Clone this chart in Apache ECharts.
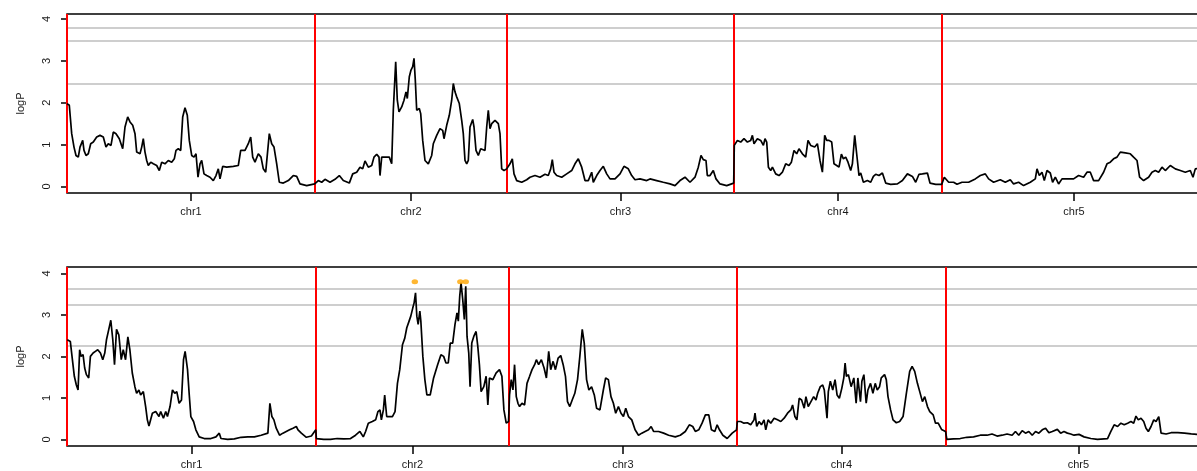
<!DOCTYPE html>
<html>
<head>
    <meta charset="utf-8">
    <title>logP scan</title>
    <script src="https://cdn.jsdelivr.net/npm/echarts@6/dist/echarts.min.js"></script>
    <style>
        html, body { margin: 0; padding: 0; background: #fff; }
        #main { width: 1197px; height: 471px; }
    </style>
</head>
<body>
<div id="main"></div>
<script type="text/javascript">
// chromosomes and their lengths (axis units)
var chrNames = ['chr1', 'chr2', 'chr3', 'chr4', 'chr5'];
var chrLen = [248, 192, 227, 208, 264];

// significance thresholds
var topThresholds = [3.78, 3.48, 2.45];
var bottomThresholds = [3.64, 3.25, 2.25];

// top panel: [position in chromosome, logP]
var topChr1 = [[0,1.98],[2.3,1.94],[4.7,1.26],[7,0.94],[9,0.74],[11.3,0.70],[13,0.94],[15.7,1.10],[17,0.86],[19,0.74],[21.3,0.78],[23.7,1.02],[26.3,1.06],[29.7,1.18],[33,1.22],[36.3,1.18],[39,0.94],[41.3,1.02],[44,0.98],[46.3,1.30],[49,1.26],[52.3,1.14],[55.7,0.90],[58,1.42],[60.7,1.66],[63,1.54],[65.7,1.46],[68,1.26],[69.7,0.82],[73,0.78],[74.7,0.94],[76.3,1.14],[78,0.82],[79.7,0.62],[81.3,0.50],[83.7,0.58],[86.3,0.54],[89.7,0.50],[92.3,0.38],[94.7,0.58],[98,0.54],[101.3,0.62],[104.7,0.58],[107.3,0.66],[109,0.86],[111.3,0.90],[113.7,0.86],[115.7,1.66],[118,1.88],[120.3,1.70],[122.3,1.10],[124.7,0.74],[127,0.70],[129,0.78],[131,0.22],[133,0.54],[134.7,0.62],[137,0.30],[139.7,0.26],[143,0.22],[146.3,0.14],[149,0.26],[151.3,0.42],[153,0.18],[155.7,0.48],[159.7,0.46],[166.3,0.48],[171.3,0.50],[173.7,0.86],[178,0.86],[181.3,1.02],[183.7,1.18],[185.7,0.70],[188,0.58],[191.3,0.78],[194,0.70],[196.3,0.42],[198.7,0.34],[200.7,0.34],[202.3,1.26],[204.7,1.02],[207,0.94],[209.7,0.54],[212.3,0.10],[216.3,0.08],[221.3,0.14],[226.3,0.26],[229.7,0.24],[233,0.06],[239.7,0.02],[247.7,0.06]];
var topChr2 = [[0.3,0.08],[3.3,0.14],[6.7,0.10],[10,0.17],[15,0.10],[20,0.17],[24.3,0.26],[28.3,0.14],[34.3,0.08],[37.7,0.30],[41.7,0.34],[45,0.46],[47.7,0.42],[50,0.61],[53.3,0.46],[56.7,0.50],[59,0.70],[61.7,0.77],[64,0.70],[65,0.26],[66.7,0.70],[70,0.70],[74.3,0.70],[76.7,0.54],[78.3,1.82],[80.7,2.98],[82.3,2.06],[84,1.78],[86.7,1.90],[89,2.06],[91,2.26],[92.3,2.10],[94.3,2.62],[96,2.78],[97.7,2.86],[99,3.06],[100.3,2.54],[101.7,1.82],[104.3,1.86],[105.7,1.74],[107.7,1.10],[110,0.62],[113.3,0.54],[116.7,0.74],[118.3,1.02],[121.7,1.22],[125,1.38],[127.7,1.34],[129,1.14],[131.7,1.46],[134.3,1.70],[136.7,2.06],[138.3,2.46],[140,2.26],[141.7,2.14],[144.3,1.98],[146.7,1.58],[148.3,1.26],[150,0.62],[151.7,0.54],[153.3,0.62],[155,1.42],[157.7,1.60],[159,1.42],[161,0.86],[163.3,0.74],[165.7,0.90],[167.7,0.90],[170,0.86],[171.7,1.42],[173.3,1.82],[175,1.38],[176.7,1.50],[180,1.58],[183.3,1.50],[185,1.26],[186.7,0.42],[189,0.38],[191.7,0.42]];
var topChr3 = [[0.2,0.46],[3,0.54],[5.3,0.66],[7,0.30],[9.7,0.14],[14.7,0.10],[19.7,0.16],[23,0.22],[28,0.26],[33,0.22],[38,0.29],[41.3,0.26],[43.7,0.42],[45.3,0.64],[47,0.34],[49.7,0.26],[54.7,0.22],[59.7,0.30],[64.7,0.38],[68,0.54],[71.3,0.66],[74.7,0.46],[78,0.14],[81.3,0.14],[84.7,0.34],[86.3,0.10],[89.7,0.26],[93,0.38],[96.3,0.48],[99.7,0.30],[103,0.18],[108,0.18],[113,0.30],[117,0.48],[121.3,0.42],[124.7,0.26],[128,0.16],[133,0.18],[139.7,0.14],[143,0.18],[149.7,0.14],[156.3,0.10],[163,0.06],[168,0.02],[173,0.14],[178,0.22],[183,0.10],[188,0.22],[191.3,0.46],[194,0.74],[196.3,0.64],[199,0.62],[200.3,0.26],[203,0.26],[206.3,0.38],[209,0.18],[213,0.06],[219.7,0.02],[226.7,0.08]];
var topChr4 = [[0.3,0.98],[3.4,1.10],[6.7,1.06],[10,1.14],[13.4,1.06],[16.7,1.10],[18.4,1.22],[20,1.02],[23.4,1.14],[26.7,1.10],[29.4,0.98],[31,1.14],[32.7,1.06],[34.4,0.46],[36.7,0.38],[38.4,0.46],[41.7,0.30],[45,0.26],[48.4,0.34],[51.7,0.54],[55,0.50],[57.4,0.58],[60,0.86],[62.7,0.78],[65,0.90],[68.4,0.78],[71.7,0.70],[74,1.10],[76.7,0.98],[78.4,1.02],[80.7,0.94],[83.4,1.02],[86,0.62],[88.4,0.34],[90.7,1.22],[92.7,1.10],[95,1.10],[97.7,1.06],[100,0.54],[102.7,0.50],[105,0.46],[107.4,0.77],[109.4,0.66],[111.7,0.70],[114,0.58],[116.7,0.38],[118.4,0.54],[120.7,1.22],[123.4,0.62],[125,0.26],[126.7,0.32],[129.4,0.10],[133.4,0.14],[136.7,0.10],[139.4,0.24],[141.7,0.29],[145,0.26],[148.4,0.32],[151.7,0.08],[156.7,0.05],[163.4,0.06],[168.4,0.14],[173.4,0.30],[178.4,0.24],[181.7,0.10],[185,0.29],[188.4,0.30],[193.4,0.32],[196,0.08],[201.7,0.05],[207.7,0.05]];
var topChr5 = [[2.3,0.22],[6.7,0.10],[11.6,0.10],[15,0.05],[20,0.10],[26.6,0.10],[33.3,0.18],[38.3,0.26],[43.3,0.30],[46.6,0.18],[51.6,0.10],[58.3,0.16],[63.3,0.10],[68.3,0.16],[71.6,0.06],[76.6,0.10],[81.6,0.02],[88.3,0.10],[93.3,0.18],[95,0.42],[97.3,0.26],[100,0.34],[102.3,0.14],[105,0.38],[108.3,0.32],[110.6,0.10],[113.3,0.22],[116.6,0.06],[120,0.18],[125,0.18],[131.6,0.18],[136.6,0.26],[141.6,0.22],[145,0.34],[148.3,0.34],[151.6,0.14],[156.6,0.14],[161.6,0.34],[165,0.54],[168.3,0.58],[171.6,0.66],[175,0.70],[178.3,0.82],[183.3,0.80],[188.3,0.78],[191.6,0.70],[193.3,0.74],[195,0.62],[197.6,0.22],[201.6,0.14],[206.6,0.22],[210,0.34],[213.3,0.38],[216.6,0.34],[220,0.46],[223.3,0.38],[228.3,0.50],[233.3,0.42],[238.3,0.38],[243.3,0.34],[248.3,0.38],[251,0.22],[253.3,0.42],[255.3,0.46],[262,0.44]];

// bottom panel: [position in chromosome, logP]
var bottomChr1 = [[0.3,2.40],[1.6,2.44],[3.3,2.36],[5,2.00],[7.3,1.52],[9.3,1.31],[11,1.19],[12.6,2.16],[14,2.00],[16,2.04],[17.6,1.72],[19.3,1.56],[21.6,1.48],[23.3,2.00],[26,2.08],[28.3,2.12],[30.6,2.16],[33.3,2.08],[35.6,1.92],[37.6,2.08],[39.3,2.40],[41.6,2.65],[43.6,2.87],[45.6,2.40],[47.3,1.80],[49.3,2.65],[51.6,2.52],[54,1.92],[56,2.16],[58.3,1.92],[60.6,2.47],[62.6,2.16],[65,1.60],[67.6,1.27],[69.3,1.11],[71.6,1.19],[73.3,1.07],[76,1.15],[78.3,0.79],[80,0.47],[81.6,0.32],[85,0.63],[88.3,0.67],[91.6,0.55],[93.3,0.67],[96,0.51],[98.3,0.67],[100,0.55],[102.6,0.79],[105,1.19],[107.3,1.11],[109.3,1.15],[111.6,0.87],[114,0.95],[116,1.92],[117.6,2.12],[120,1.68],[121.6,1.11],[123.3,0.55],[126,0.43],[128.3,0.23],[131.6,0.06],[136.6,0.02],[143.3,0.02],[148.3,0.06],[151.6,0.15],[153.3,0.02],[160,0.00],[166.6,0.01],[173.3,0.05],[180,0.06],[186.6,0.06],[193.3,0.10],[200,0.15],[202,0.87],[204,0.55],[206,0.47],[208.3,0.27],[211.6,0.10],[215,0.15],[218.3,0.19],[221.6,0.23],[225,0.27],[228.3,0.31],[230,0.23],[233.3,0.15],[238.3,0.05],[243.3,0.08],[247.7,0.23]];
var bottomChr2 = [[0.3,0.02],[7.6,0.00],[14.3,0.00],[21,0.02],[27.6,0.01],[34.3,0.02],[39.3,0.10],[43.6,0.19],[47,0.06],[49.3,0.19],[52,0.39],[56,0.43],[59.3,0.47],[61.6,0.67],[63.6,0.71],[65,0.47],[67,0.71],[68.3,1.07],[70.3,0.55],[72.6,0.55],[76,0.55],[78.6,0.67],[81,1.35],[83.3,1.68],[86,2.28],[88.3,2.44],[90.3,2.69],[92.6,2.85],[94.3,2.97],[96.3,3.17],[97.6,3.29],[99,3.53],[100.3,2.97],[101.6,2.77],[103.3,3.09],[104.3,2.85],[106.3,2.00],[108.3,1.44],[110.3,1.07],[113.6,1.07],[117,1.48],[121,1.80],[124.3,2.04],[127,2.00],[129.3,1.84],[131.6,1.84],[133.6,2.32],[136,2.32],[138.3,2.77],[140.3,3.05],[141.6,2.85],[143,3.45],[144.3,3.77],[146,3.37],[147.6,2.89],[149,3.69],[150.3,2.48],[152,2.08],[153.3,1.27],[155,2.32],[157,2.48],[159.3,2.60],[161,2.24],[162.6,1.80],[164.3,1.15],[167,1.27],[169.3,1.52],[171,0.83],[172.6,1.48],[176,1.44],[179.3,1.60],[182.6,1.68],[185,1.52],[187,0.71],[189.3,0.39],[191.6,0.43]];
var bottomChr3 = [[0.6,1.07],[2.3,1.44],[4,1.19],[5.6,1.80],[7.3,1.03],[9,0.87],[10.6,0.79],[13,0.87],[15.6,0.83],[18,1.35],[20.6,1.52],[23,1.68],[25.6,1.80],[27.3,1.92],[29.6,1.80],[32.3,1.92],[35,1.72],[37.3,1.48],[39.6,2.12],[41.6,1.68],[44,1.88],[46.3,1.68],[49,1.96],[51.6,2.02],[54,1.80],[56.3,1.52],[58.3,0.91],[60.6,0.79],[63,0.95],[65.6,1.11],[68.3,1.44],[70.6,2.00],[73,2.65],[75,2.32],[77.3,1.44],[79.6,1.19],[82.3,1.27],[85,1.07],[87.3,0.75],[90.6,0.71],[94,1.19],[96.3,1.48],[99,1.44],[101.6,1.03],[104,0.87],[106.3,0.63],[109,0.79],[111.6,0.63],[114,0.55],[116.3,0.75],[119,0.55],[122.3,0.47],[125.6,0.23],[129,0.10],[132.3,0.15],[135.6,0.19],[139,0.23],[141.6,0.31],[144,0.19],[149,0.19],[154,0.15],[159,0.10],[165.6,0.06],[170.6,0.10],[175.6,0.19],[179.6,0.35],[183,0.31],[185.6,0.19],[189,0.23],[192.3,0.39],[195.6,0.59],[199,0.59],[201.6,0.23],[205,0.19],[207.3,0.35],[209.6,0.23],[213,0.10],[217.3,0.02],[222.3,0.15],[226.6,0.23]];
var bottomChr4 = [[0.4,0.43],[3.7,0.43],[7,0.39],[10.4,0.40],[13.7,0.35],[17,0.47],[18,0.63],[19.7,0.31],[22,0.43],[24.4,0.35],[27,0.47],[28.7,0.23],[31,0.47],[33.7,0.39],[37,0.51],[40.4,0.47],[43.7,0.43],[47,0.51],[50.4,0.63],[53.7,0.71],[55.4,0.83],[57.7,0.55],[59.7,0.47],[62,0.99],[64.4,0.95],[67,0.75],[68.7,1.03],[71,0.79],[73.7,0.91],[76.4,1.03],[78.7,0.95],[80.4,1.11],[83,1.27],[85.4,1.31],[87,1.19],[89.7,0.51],[91,1.15],[93,1.40],[95.4,1.19],[97.7,1.44],[99.7,1.07],[102,0.99],[104.4,1.23],[106.4,1.48],[107.7,1.84],[109,1.52],[111,1.56],[113.7,1.27],[116.4,1.48],[118.7,0.87],[120.4,1.48],[123,0.91],[124.4,1.40],[126.4,1.56],[128.7,0.87],[130.4,1.19],[133,1.35],[135.4,1.11],[137.7,1.35],[139.7,1.19],[142,1.27],[143.7,1.48],[147,1.56],[148.7,1.44],[150.4,1.03],[153,0.71],[155.4,0.47],[158.7,0.40],[162,0.43],[165.4,0.55],[168.7,1.11],[172,1.64],[174.4,1.76],[177,1.64],[179.7,1.35],[182,1.15],[184.7,0.91],[187,1.03],[189.7,0.79],[192,0.67],[195.4,0.59],[197.7,0.39],[200.4,0.39],[203.7,0.24],[207.7,0.19]];
var bottomChr5 = [[1,0.00],[7.6,0.01],[14.3,0.02],[21,0.05],[27.6,0.06],[34.3,0.10],[41,0.10],[46,0.13],[51,0.08],[56,0.10],[61,0.13],[66,0.10],[69.3,0.19],[72.6,0.10],[76,0.21],[79.3,0.15],[82.6,0.19],[86,0.10],[89.3,0.19],[92.6,0.15],[96,0.23],[99.3,0.27],[102.6,0.16],[106,0.19],[111,0.24],[114.3,0.15],[117.6,0.19],[121,0.15],[124.3,0.13],[127.6,0.10],[132.6,0.12],[137.6,0.06],[144.3,0.02],[151,0.00],[161,0.02],[164.3,0.19],[167.6,0.35],[171,0.31],[174.3,0.39],[177.6,0.35],[181,0.39],[184.3,0.43],[187,0.39],[189.3,0.56],[191.6,0.47],[194.3,0.51],[197,0.43],[199.3,0.27],[201.6,0.19],[204.3,0.31],[207,0.47],[209.3,0.43],[212,0.55],[214.3,0.15],[219.3,0.13],[224.3,0.16],[231,0.16],[237.6,0.15],[244.3,0.13],[251.3,0.12],[262,0.12]];

// significant markers (bottom panel, chr2)
var sigChr2Pos = [98.3, 143.6, 149];
var sigLogP = 3.80;

var chrStart = [];
var acc = 0;
for (var i = 0; i < chrLen.length; i++) { chrStart.push(acc); acc += chrLen[i]; }
var genomeLen = acc;
var chrMid = chrStart.map(function (s, i) { return s + chrLen[i] / 2; });

function toGenome(chrs) {
    var out = [];
    chrs.forEach(function (list, c) {
        list.forEach(function (p) { out.push([chrStart[c] + p[0], p[1]]); });
    });
    return out;
}

var topData = toGenome([topChr1, topChr2, topChr3, topChr4, topChr5]);
var bottomData = toGenome([bottomChr1, bottomChr2, bottomChr3, bottomChr4, bottomChr5]);
var sigData = sigChr2Pos.map(function (p) { return [chrStart[1] + p, sigLogP]; });

var font = 'Liberation Sans, Arial, sans-serif';
var textColor = '#1a1a1a';

function refLines(thresholds) {
    var d = [];
    thresholds.forEach(function (t) {
        d.push({ yAxis: t, lineStyle: { color: '#bebebe', width: 1.6, type: 'solid' } });
    });
    chrStart.forEach(function (s) {
        d.push({ xAxis: s, lineStyle: { color: '#ff0000', width: 2, type: 'solid' } });
    });
    return d;
}

function xAxisFor(idx) {
    return {
        type: 'value', gridIndex: idx, min: 0, max: genomeLen,
        splitLine: { show: false },
        axisLine: { show: false, onZero: false },
        axisTick: { show: true, length: 8, customValues: chrMid, lineStyle: { color: '#000', width: 1.5 } },
        axisLabel: {
            customValues: chrMid, margin: 13, fontSize: 11, fontFamily: font, color: textColor,
            formatter: function (v) {
                for (var k = 0; k < chrMid.length; k++) { if (Math.abs(chrMid[k] - v) < 0.01) return chrNames[k]; }
                return '';
            }
        }
    };
}

function yAxisFor(idx, min, max) {
    return {
        type: 'value', gridIndex: idx, min: min, max: max,
        name: 'logP', nameLocation: 'middle', nameGap: 41, nameRotate: 90,
        nameTextStyle: { fontSize: 11, fontFamily: font, color: textColor },
        splitLine: { show: false },
        axisLine: { show: false, onZero: false },
        axisTick: { show: true, length: 6, customValues: [0, 1, 2, 3, 4], lineStyle: { color: '#000', width: 1.5 } },
        axisLabel: { customValues: [0, 1, 2, 3, 4], rotate: 90, margin: 15, fontSize: 11, fontFamily: font, color: textColor }
    };
}

var chart = echarts.init(document.getElementById('main'), null, { renderer: 'canvas' });
chart.setOption({
    animation: false,
    backgroundColor: '#fff',
    grid: [
        // the plot box runs past the right edge of the picture
        { left: 67, width: 1139, top: 14, height: 179, outerBoundsMode: 'none', show: true, borderColor: '#000', borderWidth: 1.5, backgroundColor: 'transparent' },
        { left: 67, width: 1144, top: 267, height: 179, outerBoundsMode: 'none', show: true, borderColor: '#000', borderWidth: 1.5, backgroundColor: 'transparent' }
    ],
    xAxis: [xAxisFor(0), xAxisFor(1)],
    yAxis: [yAxisFor(0, -0.157, 4.12), yAxisFor(1, -0.16, 4.154)],
    series: [
        {
            type: 'line', xAxisIndex: 0, yAxisIndex: 0, data: topData,
            showSymbol: false, lineStyle: { color: '#000', width: 1.7 }, z: 3,
            markLine: { silent: true, symbol: 'none', label: { show: false }, data: refLines(topThresholds), z: 2 }
        },
        {
            type: 'line', xAxisIndex: 1, yAxisIndex: 1, data: bottomData,
            showSymbol: false, lineStyle: { color: '#000', width: 1.7 }, z: 3,
            markLine: { silent: true, symbol: 'none', label: { show: false }, data: refLines(bottomThresholds), z: 2 }
        },
        {
            type: 'scatter', xAxisIndex: 1, yAxisIndex: 1, data: sigData,
            symbol: 'circle', symbolSize: [6.5, 5], itemStyle: { color: '#ffa500' }, z: 4
        }
    ]
});
</script>
</body>
</html>
